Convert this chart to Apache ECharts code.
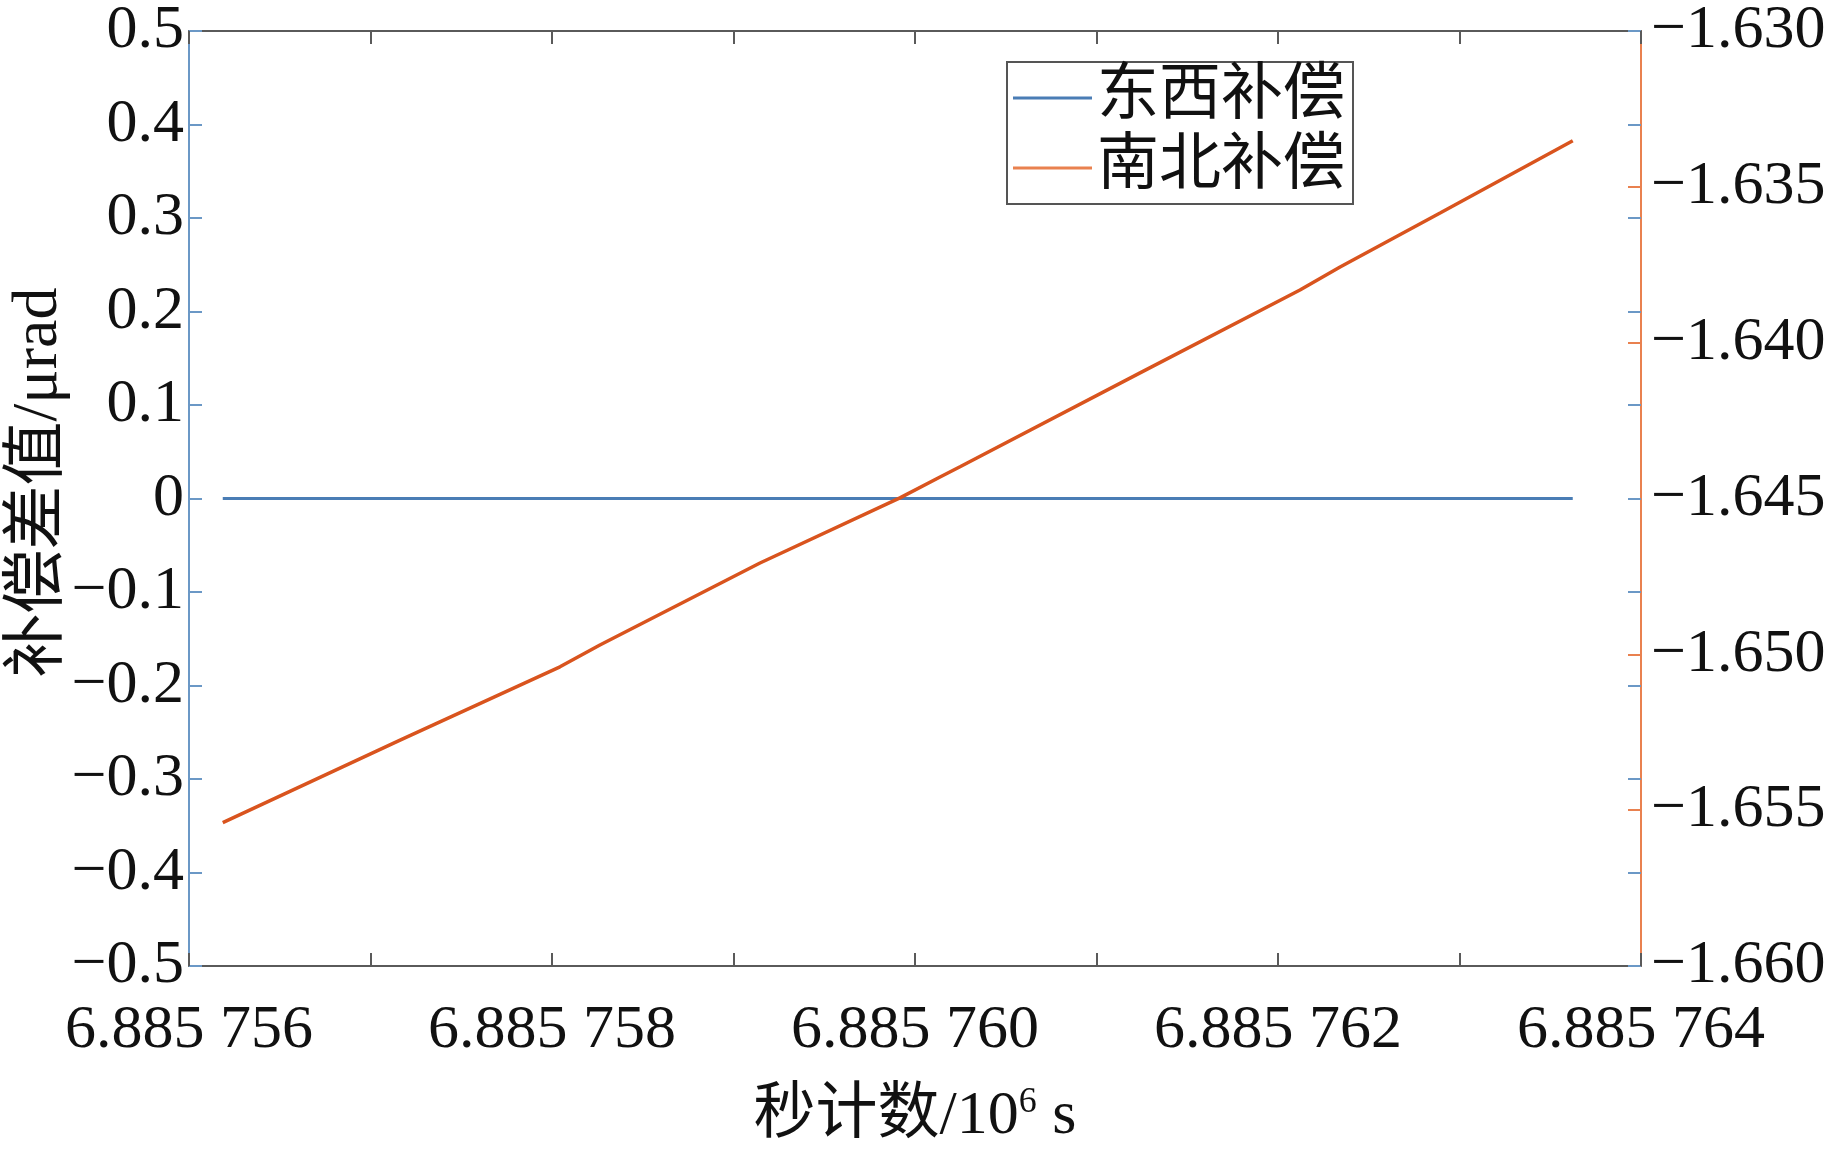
<!DOCTYPE html>
<html>
<head>
<meta charset="utf-8">
<script src="https://cdn.jsdelivr.net/npm/echarts@6/dist/echarts.min.js"></script>
<style>
html,body{margin:0;padding:0;background:#fff;}
#chart{width:1843px;height:1149px;}
</style>
</head>
<body>
<div id="chart"></div>
<script>
// Data (x in seconds)
const ewTime = [6885756.186, 6885763.624];
const ewValues = [0, 0];
const nsTime = [6885756.186, 6885757.163, 6885758.044, 6885758.264, 6885759.146, 6885759.917, 6885760.138, 6885760.248, 6885761.240, 6885762.121, 6885762.342, 6885762.893, 6885763.624];
const nsValues = [-1.65540, -1.65275, -1.65040, -1.64970, -1.64707, -1.64498, -1.64431, -1.64398, -1.64097, -1.63831, -1.63757, -1.63584, -1.63352];
const seriesNames = ['东西补偿', '南北补偿'];
const xName = '秒计数/10';
const yName = '补偿差值/μrad';

const serif = 'Liberation Serif, "Times New Roman", "Noto Sans CJK SC", serif';
const blueAxis = '#6b98c6';
const orangeAxis = '#e9814f';
const grayAxis = '#5a5a5a';

const chart = echarts.init(document.getElementById('chart'));
const grid = {left: 189, top: 31, right: 202, bottom: 183, containLabel: false, outerBoundsMode: 'none'};

function xFmt(v) {
  const r = Math.round(v);
  if (r % 2 !== 0) return '';
  const s = (r / 1e6).toFixed(6);
  return s.slice(0, 5) + ' ' + s.slice(5);
}

chart.setOption({
  animation: false,
  backgroundColor: '#fff',
  grid: grid,
  legend: {
    data: seriesNames,
    orient: 'vertical',
    left: 1007, top: 62,
    padding: [4, 8, 4, 6],
    itemGap: 6,
    itemWidth: 79, itemHeight: 3,
    icon: 'rect',
    borderColor: '#555', borderWidth: 2,
    backgroundColor: '#fff',
    textStyle: {fontFamily: serif, fontSize: 62, color: '#111', lineHeight: 64}
  },
  xAxis: [{
    type: 'value', min: 6885756, max: 6885764, interval: 1,
    position: 'bottom',
    name: '{a|' + xName + '}{b|6}{a| s}',
    nameLocation: 'middle', nameGap: 119,
    nameTextStyle: {
      rich: {
        a: {fontFamily: serif, fontSize: 62, color: '#111', lineHeight: 64},
        b: {fontFamily: serif, fontSize: 36, color: '#111', verticalAlign: 'top', lineHeight: 64}
      }
    },
    axisLine: {show: true, onZero: false, lineStyle: {color: grayAxis, width: 2}},
    axisTick: {show: true, inside: true, length: 13, lineStyle: {color: grayAxis, width: 2}},
    axisLabel: {show: true, formatter: xFmt, fontFamily: serif, fontSize: 62, color: '#111', margin: 34, showMinLabel: true, showMaxLabel: true},
    splitLine: {show: false}
  }, {
    type: 'value', min: 6885756, max: 6885764, interval: 1,
    position: 'top',
    axisLine: {show: true, onZero: false, lineStyle: {color: grayAxis, width: 2}},
    axisTick: {show: true, inside: true, length: 13, lineStyle: {color: grayAxis, width: 2}},
    axisLabel: {show: false},
    splitLine: {show: false}
  }],
  yAxis: [{
    type: 'value', min: -0.5, max: 0.5, interval: 0.1,
    position: 'left',
    name: yName, nameLocation: 'middle', nameGap: 118, nameRotate: 90,
    nameMoveOverlap: false,
    nameTextStyle: {fontFamily: serif, fontSize: 64, color: '#111', padding: [0, 0, 0, 32]},
    axisLine: {show: true, onZero: false, lineStyle: {color: blueAxis, width: 2}},
    axisTick: {show: true, inside: true, length: 13, lineStyle: {color: blueAxis, width: 2}},
    axisLabel: {formatter: v => Math.abs(v) < 1e-9 ? '0' : v.toFixed(1).replace('-', '\u2212'), fontFamily: serif, fontSize: 62, color: '#111', margin: 5},
    splitLine: {show: false}
  }, {
    type: 'value', min: -1.660, max: -1.630, interval: 0.005,
    position: 'right',
    axisLine: {show: true, onZero: false, lineStyle: {color: orangeAxis, width: 2}},
    axisTick: {show: true, inside: true, length: 13, lineStyle: {color: orangeAxis, width: 2}},
    axisLabel: {formatter: v => v.toFixed(3).replace('-', '\u2212'), fontFamily: serif, fontSize: 62, color: '#111', margin: 10},
    splitLine: {show: false}
  }, {
    type: 'value', min: -0.5, max: 0.5, interval: 0.1,
    position: 'right',
    axisLine: {show: false, onZero: false},
    axisTick: {show: true, inside: true, length: 13, lineStyle: {color: blueAxis, width: 2}},
    axisLabel: {show: false},
    splitLine: {show: false}
  }],
  series: [{
    name: seriesNames[0], type: 'line', xAxisIndex: 0, yAxisIndex: 0,
    data: ewTime.map((t, i) => [t, ewValues[i]]),
    symbol: 'none', lineStyle: {color: '#4a7db5', width: 3}, itemStyle: {color: '#4a7db5'}
  }, {
    name: seriesNames[1], type: 'line', xAxisIndex: 0, yAxisIndex: 1,
    data: nsTime.map((t, i) => [t, nsValues[i]]),
    symbol: 'none', lineStyle: {color: '#d9541e', width: 3.5}, itemStyle: {color: '#e9814f'}
  }]
});
</script>
</body>
</html>
